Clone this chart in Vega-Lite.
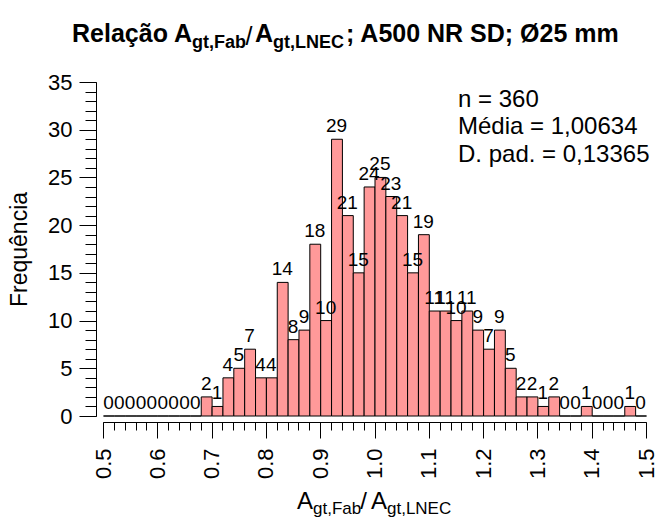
{
  "$schema": "https://vega.github.io/schema/vega-lite/v6.json",
  "width": 543,
  "height": 334,
  "autosize": {"type": "none"},
  "padding": {"left": 103, "top": 82, "right": 22, "bottom": 106},
  "background": "white",
  "config": {
    "view": {"stroke": null},
    "font": "Liberation Sans",
    "axis": {"grid": false, "domainColor": "black", "tickColor": "black", "labelColor": "black", "titleColor": "black", "labelFont": "Liberation Sans", "titleFont": "Liberation Sans", "domainWidth": 1, "tickWidth": 1}
  },
  "datasets": {
    "bins": [
      {"start": 0.50, "end": 0.52, "count": 0},
      {"start": 0.52, "end": 0.54, "count": 0},
      {"start": 0.54, "end": 0.56, "count": 0},
      {"start": 0.56, "end": 0.58, "count": 0},
      {"start": 0.58, "end": 0.60, "count": 0},
      {"start": 0.60, "end": 0.62, "count": 0},
      {"start": 0.62, "end": 0.64, "count": 0},
      {"start": 0.64, "end": 0.66, "count": 0},
      {"start": 0.66, "end": 0.68, "count": 0},
      {"start": 0.68, "end": 0.70, "count": 2},
      {"start": 0.70, "end": 0.72, "count": 1},
      {"start": 0.72, "end": 0.74, "count": 4},
      {"start": 0.74, "end": 0.76, "count": 5},
      {"start": 0.76, "end": 0.78, "count": 7},
      {"start": 0.78, "end": 0.80, "count": 4},
      {"start": 0.80, "end": 0.82, "count": 4},
      {"start": 0.82, "end": 0.84, "count": 14},
      {"start": 0.84, "end": 0.86, "count": 8},
      {"start": 0.86, "end": 0.88, "count": 9},
      {"start": 0.88, "end": 0.90, "count": 18},
      {"start": 0.90, "end": 0.92, "count": 10},
      {"start": 0.92, "end": 0.94, "count": 29},
      {"start": 0.94, "end": 0.96, "count": 21},
      {"start": 0.96, "end": 0.98, "count": 15},
      {"start": 0.98, "end": 1.00, "count": 24},
      {"start": 1.00, "end": 1.02, "count": 25},
      {"start": 1.02, "end": 1.04, "count": 23},
      {"start": 1.04, "end": 1.06, "count": 21},
      {"start": 1.06, "end": 1.08, "count": 15},
      {"start": 1.08, "end": 1.10, "count": 19},
      {"start": 1.10, "end": 1.12, "count": 11},
      {"start": 1.12, "end": 1.14, "count": 11},
      {"start": 1.14, "end": 1.16, "count": 10},
      {"start": 1.16, "end": 1.18, "count": 11},
      {"start": 1.18, "end": 1.20, "count": 9},
      {"start": 1.20, "end": 1.22, "count": 7},
      {"start": 1.22, "end": 1.24, "count": 9},
      {"start": 1.24, "end": 1.26, "count": 5},
      {"start": 1.26, "end": 1.28, "count": 2},
      {"start": 1.28, "end": 1.30, "count": 2},
      {"start": 1.30, "end": 1.32, "count": 1},
      {"start": 1.32, "end": 1.34, "count": 2},
      {"start": 1.34, "end": 1.36, "count": 0},
      {"start": 1.36, "end": 1.38, "count": 0},
      {"start": 1.38, "end": 1.40, "count": 1},
      {"start": 1.40, "end": 1.42, "count": 0},
      {"start": 1.42, "end": 1.44, "count": 0},
      {"start": 1.44, "end": 1.46, "count": 0},
      {"start": 1.46, "end": 1.48, "count": 1},
      {"start": 1.48, "end": 1.50, "count": 0}
    ]
  },
  "resolve": {"axis": {"x": "independent", "y": "independent"}},
  "layer": [
    {
      "data": {"name": "bins"},
      "mark": {"type": "bar", "fill": "#ff9999", "stroke": "black", "strokeWidth": 1, "binSpacing": 0},
      "encoding": {
        "x": {
          "field": "start", "type": "quantitative", "bin": {"binned": true},
          "scale": {"domain": [0.5, 1.5], "nice": false, "zero": false},
          "axis": {"orient": "bottom", "values": [0.5, 0.6, 0.7, 0.8, 0.9, 1.0, 1.1, 1.2, 1.3, 1.4, 1.5], "format": ".1f", "offset": 6, "tickSize": 16, "labelAngle": -90, "labelFontSize": 22, "labelPadding": 10, "labelFlush": false, "labelOverlap": false, "title": null}
        },
        "x2": {"field": "end"},
        "y": {
          "field": "count", "type": "quantitative",
          "scale": {"domain": [0, 35], "nice": false},
          "axis": {"orient": "left", "values": [0, 5, 10, 15, 20, 25, 30, 35], "offset": 7, "tickSize": 17, "labelFontSize": 22, "labelPadding": 7, "labelFlush": false, "labelOverlap": false, "title": "Frequência", "titleFontSize": 23, "titleFontWeight": "normal", "titlePadding": 16}
        }
      }
    },
    {
      "data": {"name": "bins"},
      "mark": {"type": "text", "fontSize": 19, "align": "center", "baseline": "alphabetic", "dx": 5.43, "dy": -7, "color": "black"},
      "encoding": {
        "x": {
          "field": "start", "type": "quantitative",
          "axis": {"orient": "bottom", "values": [0.5, 0.52, 0.54, 0.56, 0.58, 0.6, 0.62, 0.64, 0.66, 0.68, 0.7, 0.72, 0.74, 0.76, 0.78, 0.8, 0.82, 0.84, 0.86, 0.88, 0.9, 0.92, 0.94, 0.96, 0.98, 1.0, 1.02, 1.04, 1.06, 1.08, 1.1, 1.12, 1.14, 1.16, 1.18, 1.2, 1.22, 1.24, 1.26, 1.28, 1.3, 1.32, 1.34, 1.36, 1.38, 1.4, 1.42, 1.44, 1.46, 1.48, 1.5], "offset": 6, "tickSize": 8, "labels": false, "domain": false, "title": null}
        },
        "y": {
          "field": "count", "type": "quantitative",
          "axis": {"orient": "left", "values": [0, 1, 2, 3, 4, 5, 6, 7, 8, 9, 10, 11, 12, 13, 14, 15, 16, 17, 18, 19, 20, 21, 22, 23, 24, 25, 26, 27, 28, 29, 30, 31, 32, 33, 34, 35], "offset": 7, "tickSize": 11, "labels": false, "domain": false, "title": null}
        },
        "text": {"field": "count", "type": "quantitative"}
      }
    },
    {
      "data": {"values": [{}]},
      "mark": {"type": "text", "align": "left", "baseline": "alphabetic", "fontSize": 24, "lineHeight": 27.5, "color": "black"},
      "encoding": {
        "x": {"datum": 1.1538, "type": "quantitative", "axis": null},
        "y": {"datum": 32.41, "type": "quantitative", "axis": null},
        "text": {"value": ["n = 360", "Média = 1,00634", "D. pad. = 0,13365"]}
      }
    },
    {
      "data": {"values": [{}]},
      "mark": {"type": "text", "align": "right", "baseline": "alphabetic", "fontSize": 25, "fontWeight": "bold", "color": "black"},
      "encoding": {
        "x": {"datum": 0.6639, "type": "quantitative", "axis": null},
        "y": {"datum": 39.22, "type": "quantitative", "axis": null},
        "text": {"value": "Relação A"}
      }
    },
    {
      "data": {"values": [{}]},
      "mark": {"type": "text", "align": "left", "baseline": "alphabetic", "fontSize": 18, "fontWeight": "bold", "color": "black"},
      "encoding": {
        "x": {"datum": 0.6639, "type": "quantitative", "axis": null},
        "y": {"datum": 38.53, "type": "quantitative", "axis": null},
        "text": {"value": "gt,Fab"}
      }
    },
    {
      "data": {"values": [{}]},
      "mark": {"type": "text", "align": "center", "baseline": "alphabetic", "fontSize": 25, "color": "black"},
      "encoding": {
        "x": {"datum": 0.7689, "type": "quantitative", "axis": null},
        "y": {"datum": 38.9, "type": "quantitative", "axis": null},
        "text": {"value": "/"}
      }
    },
    {
      "data": {"values": [{}]},
      "mark": {"type": "text", "align": "right", "baseline": "alphabetic", "fontSize": 25, "fontWeight": "bold", "color": "black"},
      "encoding": {
        "x": {"datum": 0.8131, "type": "quantitative", "axis": null},
        "y": {"datum": 39.22, "type": "quantitative", "axis": null},
        "text": {"value": "A"}
      }
    },
    {
      "data": {"values": [{}]},
      "mark": {"type": "text", "align": "left", "baseline": "alphabetic", "fontSize": 18, "fontWeight": "bold", "color": "black"},
      "encoding": {
        "x": {"datum": 0.8131, "type": "quantitative", "axis": null},
        "y": {"datum": 38.53, "type": "quantitative", "axis": null},
        "text": {"value": "gt,LNEC"}
      }
    },
    {
      "data": {"values": [{}]},
      "mark": {"type": "text", "align": "left", "baseline": "alphabetic", "fontSize": 25, "fontWeight": "bold", "color": "black"},
      "encoding": {
        "x": {"datum": 0.9475, "type": "quantitative", "axis": null},
        "y": {"datum": 39.22, "type": "quantitative", "axis": null},
        "text": {"value": "; A500 NR SD; Ø25 mm"}
      }
    },
    {
      "data": {"values": [{}]},
      "mark": {"type": "text", "align": "right", "baseline": "alphabetic", "fontSize": 24, "color": "black"},
      "encoding": {
        "x": {"datum": 0.8867, "type": "quantitative", "axis": null},
        "y": {"datum": -9.75, "type": "quantitative", "axis": null},
        "text": {"value": "A"}
      }
    },
    {
      "data": {"values": [{}]},
      "mark": {"type": "text", "align": "left", "baseline": "alphabetic", "fontSize": 17, "color": "black"},
      "encoding": {
        "x": {"datum": 0.8867, "type": "quantitative", "axis": null},
        "y": {"datum": -10.3, "type": "quantitative", "axis": null},
        "text": {"value": "gt,Fab"}
      }
    },
    {
      "data": {"values": [{}]},
      "mark": {"type": "text", "align": "center", "baseline": "alphabetic", "fontSize": 24, "color": "black"},
      "encoding": {
        "x": {"datum": 0.9797, "type": "quantitative", "axis": null},
        "y": {"datum": -9.75, "type": "quantitative", "axis": null},
        "text": {"value": "/"}
      }
    },
    {
      "data": {"values": [{}]},
      "mark": {"type": "text", "align": "right", "baseline": "alphabetic", "fontSize": 24, "color": "black"},
      "encoding": {
        "x": {"datum": 1.023, "type": "quantitative", "axis": null},
        "y": {"datum": -9.75, "type": "quantitative", "axis": null},
        "text": {"value": "A"}
      }
    },
    {
      "data": {"values": [{}]},
      "mark": {"type": "text", "align": "left", "baseline": "alphabetic", "fontSize": 17, "color": "black"},
      "encoding": {
        "x": {"datum": 1.023, "type": "quantitative", "axis": null},
        "y": {"datum": -10.3, "type": "quantitative", "axis": null},
        "text": {"value": "gt,LNEC"}
      }
    }
  ]
}
